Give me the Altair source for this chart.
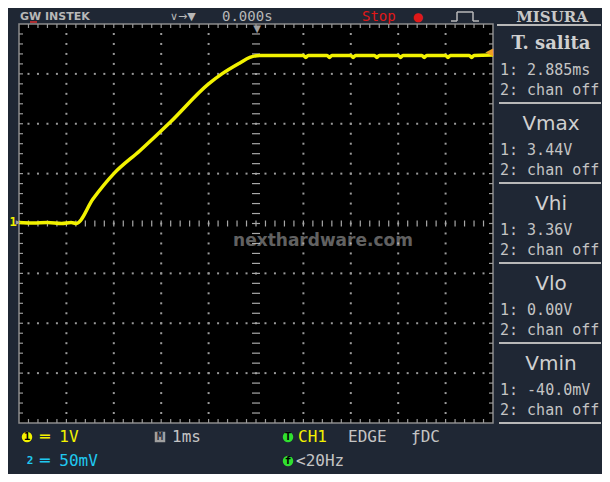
import altair as alt
import pandas as pd
import numpy as np

# ---- waveform data (time in ms, voltage in V) ----
time_ms = [-5.0, -4.7, -4.4, -4.1, -3.9, -3.79, -3.44, -3.0, -2.45, -1.81, -1.0, -0.72,
           -0.34, -0.13, 0.08, 0.4, 0.8, 1.0, 1.05, 1.1, 1.5, 1.55, 1.6, 2.0, 2.05, 2.1,
           2.5, 2.55, 2.6, 3.0, 3.05, 3.1, 3.5, 3.55, 3.6, 4.0, 4.05, 4.1, 4.5, 4.55,
           4.6, 5.0]
volts = [0.02, 0.01, 0.02, 0.0, 0.02, 0.0, 0.49, 1.0, 1.46, 2.03, 2.8, 3.0,
         3.22, 3.33, 3.37, 3.37, 3.37, 3.37, 3.33, 3.37, 3.37, 3.33, 3.37, 3.37, 3.33, 3.37,
         3.37, 3.33, 3.37, 3.37, 3.33, 3.37, 3.37, 3.33, 3.37, 3.37, 3.33, 3.37, 3.37, 3.33,
         3.37, 3.38]

# ---- measurement panel texts ----
panel_titles = ["T. salita", "Vmax", "Vhi", "Vlo", "Vmin"]
panel_ch1 = ["1: 2.885ms", "1: 3.44V", "1: 3.36V", "1: 0.00V", "1: -40.0mV"]
panel_ch2 = ["2: chan off"] * 5

W, H = 474, 399
X0, Y0 = 19, 24
BG = "#1f2734"
GRAY = "#c4c4c4"
MONO = "DejaVu Sans Mono"
YEL = "#f2f200"

xs = alt.Scale(domain=[-5, 5], nice=False, zero=False)
ys = alt.Scale(domain=[-4, 4], nice=False, zero=False)
one = alt.Data(values=[{}])


def txt(s, X, Y, size=16, color=GRAY, font=MONO, align="left", weight="normal", opacity=1.0):
    return alt.Chart(one).mark_text(text=s, align=align, baseline="middle", fontSize=size,
                                    color=color, font=font, fontWeight=weight,
                                    opacity=opacity).encode(
        x=alt.value(X - X0), y=alt.value(Y - Y0))


def hline(X1, X2, Y, color="#b0b0b0", w=2):
    return alt.Chart(one).mark_rule(color=color, strokeWidth=w).encode(
        x=alt.value(X1 - X0), x2=alt.value(X2 - X0), y=alt.value(Y - Y0))


def vline(X, Y1, Y2, color="#b0b0b0", w=1.5):
    return alt.Chart(one).mark_rule(color=color, strokeWidth=w).encode(
        x=alt.value(X - X0), y=alt.value(Y1 - Y0), y2=alt.value(Y2 - Y0))


layers = []

# grid dots
minor_x = np.round(np.arange(-5, 5.001, 0.2), 2)
minor_y = np.round(np.arange(-4, 4.001, 0.2), 2)
dots = [{"t": x, "v": y} for x in [-4, -3, -2, -1, 1, 2, 3, 4] for y in minor_y[1:-1]]
dots += [{"t": x, "v": y} for y in [-3, -2, -1, 1, 2, 3] for x in minor_x[1:-1]]
layers.append(alt.Chart(pd.DataFrame(dots)).mark_square(size=4, color="#9a9a9a", opacity=1).encode(
    x=alt.X("t:Q", scale=xs, axis=None), y=alt.Y("v:Q", scale=ys, axis=None)))

# center cross ticks
cx = pd.DataFrame({"t": minor_x[1:-1]})
cy = pd.DataFrame({"v": minor_y[1:-1]})
layers.append(alt.Chart(cx).mark_rule(color="#a8a8a8", strokeWidth=1.2).encode(
    x=alt.X("t:Q", scale=xs, axis=None), y=alt.value(H / 2 - 3), y2=alt.value(H / 2 + 3)))
layers.append(alt.Chart(cy).mark_rule(color="#a8a8a8", strokeWidth=1.2).encode(
    y=alt.Y("v:Q", scale=ys, axis=None), x=alt.value(W / 2 - 4), x2=alt.value(W / 2 + 4)))

# border ticks
layers.append(alt.Chart(cx).mark_rule(color="#9a9a9a", strokeWidth=1.2).encode(
    x=alt.X("t:Q", scale=xs, axis=None), y=alt.value(0), y2=alt.value(4)))
layers.append(alt.Chart(cx).mark_rule(color="#9a9a9a", strokeWidth=1.2).encode(
    x=alt.X("t:Q", scale=xs, axis=None), y=alt.value(H - 4), y2=alt.value(H)))
layers.append(alt.Chart(cy).mark_rule(color="#9a9a9a", strokeWidth=1.2).encode(
    y=alt.Y("v:Q", scale=ys, axis=None), x=alt.value(0), x2=alt.value(4)))
layers.append(alt.Chart(cy).mark_rule(color="#9a9a9a", strokeWidth=1.2).encode(
    y=alt.Y("v:Q", scale=ys, axis=None), x=alt.value(W - 4), x2=alt.value(W)))

# watermark
layers.append(txt("nexthardware.com", 323, 241, size=17, color="#d8d8d8",
                  font="DejaVu Sans", align="center", weight="bold", opacity=0.45))

# waveform
wave = pd.DataFrame({"t": time_ms, "v": volts})
layers.append(alt.Chart(wave).mark_line(color=YEL, strokeWidth=3.5, interpolate="monotone").encode(
    x=alt.X("t:Q", scale=xs, axis=None), y=alt.Y("v:Q", scale=ys, axis=None)))

# markers
layers.append(txt("▼", 257, 29, size=10, color="#a0a0a0", font="DejaVu Sans", align="center"))
layers.append(txt("◀", 489, 52, size=10, color="#f0a020", font="DejaVu Sans", align="center"))
layers.append(txt("1", 13, 222, size=12, color=YEL, font=MONO, align="center", weight="bold"))
layers.append(txt("▶", 18, 222, size=6, color="#a0a0a0", font="DejaVu Sans", align="center"))

# header
layers.append(txt("GW INSTEK", 20, 17, size=11, color="#b8b8b8", font="DejaVu Sans", weight="bold"))
layers.append(hline(30, 37, 22, color="#e03030", w=1.5))
layers.append(txt("∨→▼", 170, 17, size=11, color="#b8b8b8", font="DejaVu Sans"))
layers.append(txt("0.000s", 222, 17, size=14, color="#b8b8b8"))
layers.append(txt("Stop", 362, 17, size=14, color="#e01818"))
layers.append(txt("●", 418, 17, size=12, color="#e01818", font="DejaVu Sans", align="center"))
# pulse icon
layers.append(hline(451, 457, 21, color="#b8b8b8", w=1.5))
layers.append(vline(457, 12, 21, color="#b8b8b8"))
layers.append(hline(457, 473, 12, color="#b8b8b8", w=1.5))
layers.append(vline(473, 12, 21, color="#b8b8b8"))
layers.append(hline(473, 479, 21, color="#b8b8b8", w=1.5))
layers.append(txt("MISURA", 552, 17, size=15, color="#c8c8c8", font="DejaVu Serif",
                  align="center", weight="bold"))
layers.append(hline(497, 601, 25, color="#b8b8b8", w=2))

# right panel
for i in range(5):
    top = 24 + i * 80
    if i == 0:
        layers.append(txt(panel_titles[i], 551, top + 20, size=18, color="#d0d0d0",
                          font="DejaVu Serif", align="center", weight="bold"))
    else:
        layers.append(txt(panel_titles[i], 551, top + 20, size=20, color="#d0d0d0",
                          font="DejaVu Sans", align="center"))
    layers.append(txt(panel_ch1[i], 500, top + 46, size=15))
    layers.append(txt(panel_ch2[i], 500, top + 66, size=15))
    layers.append(hline(499, 601, top + 79, color="#b8b8b8", w=2))

# bottom status line
layers.append(alt.Chart(one).mark_circle(size=110, color=YEL, opacity=1).encode(
    x=alt.value(27 - X0), y=alt.value(437 - Y0)))
layers.append(txt("1", 27, 437, size=11, color="black", align="center", weight="bold"))
layers.append(txt("═ 1V", 40, 437, size=16, color=YEL))
layers.append(txt("2", 30, 461, size=11, color="#20c8f0", align="center", weight="bold"))
layers.append(txt("═ 50mV", 40, 461, size=16, color="#20c8f0"))
layers.append(alt.Chart(one).mark_square(size=110, color="#a0a0a0", opacity=1).encode(
    x=alt.value(160 - X0), y=alt.value(437 - Y0)))
layers.append(txt("M", 160, 437, size=10, color="#1f2734", align="center", weight="bold"))
layers.append(txt("1ms", 172, 437, size=16))
layers.append(alt.Chart(one).mark_circle(size=110, color="#30e030", opacity=1).encode(
    x=alt.value(288 - X0), y=alt.value(437 - Y0)))
layers.append(txt("T", 288, 437, size=11, color="black", align="center", weight="bold"))
layers.append(txt("CH1", 298, 437, size=16, color=YEL))
layers.append(txt("EDGE", 348, 437, size=16))
layers.append(txt("ƒDC", 411, 437, size=16))
layers.append(alt.Chart(one).mark_circle(size=110, color="#30e030", opacity=1).encode(
    x=alt.value(288 - X0), y=alt.value(461 - Y0)))
layers.append(txt("f", 288, 461, size=11, color="black", align="center", weight="bold"))
layers.append(txt("<20Hz", 296, 461, size=16))

chart = alt.layer(*layers).properties(
    width=W, height=H,
    padding={"left": 11, "top": 16, "right": 109, "bottom": 51},
    autosize="none", background=BG,
).configure_view(fill="black", stroke="#8c8c8c", strokeWidth=1.5)

chart.save("out.html", embed_options={"renderer": "svg", "actions": False})
